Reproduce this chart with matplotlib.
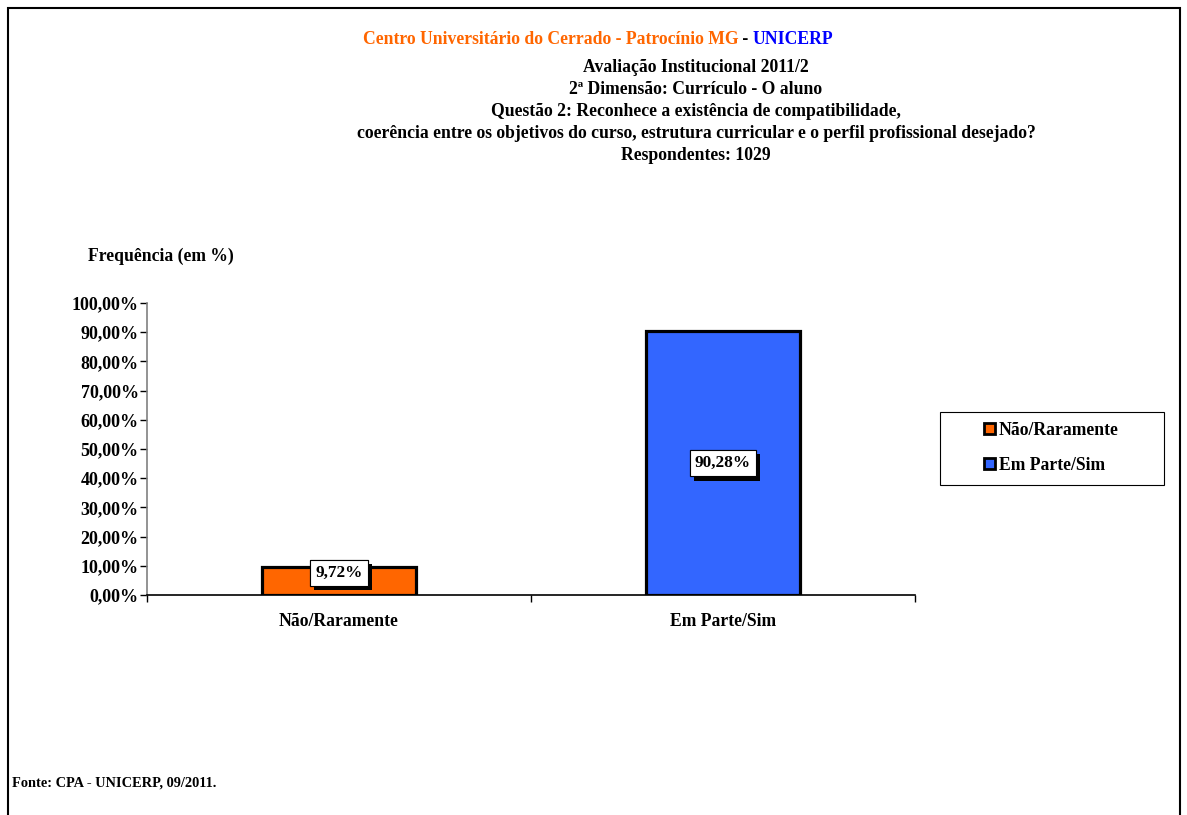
import matplotlib
matplotlib.use('Agg')
from matplotlib import pyplot as plt
from matplotlib import patheffects
from matplotlib.patches import Rectangle

plt.rcParams['font.family'] = ['Liberation Serif', 'DejaVu Serif']
plt.rcParams['font.weight'] = 'bold'

# dados
categorias = ['Não/Raramente', 'Em Parte/Sim']
valores = [9.72, 90.28]
cores = ['#FF6600', '#3366FF']
rotulos = ['9,72%', '90,28%']
yticks = [0, 10, 20, 30, 40, 50, 60, 70, 80, 90, 100]
ytick_labels = ['%d,00%%' % v for v in yticks]

titulo_partes = [('Centro Universitário do Cerrado - Patrocínio MG', '#FF6600'),
                 (' - ', 'black'),
                 ('UNICERP', '#0000FF')]
subtitulo = ['Avaliação Institucional 2011/2',
             '2ª Dimensão: Currículo - O aluno',
             'Questão 2: Reconhece a existência de compatibilidade,',
             'coerência entre os objetivos do curso, estrutura curricular e o perfil profissional desejado?',
             'Respondentes: 1029']

W, H = 1187, 815
fs = 12.7
fig = plt.figure(figsize=(W / 100, H / 100), dpi=100)

# moldura externa
fig.patches.append(Rectangle((8 / W, -0.01), (1180 - 8) / W, 1 - 8 / H + 0.01,
                             transform=fig.transFigure, fill=False,
                             edgecolor='black', linewidth=1.5))

ax = fig.add_axes([147 / W, 1 - 595 / H, (915 - 147) / W, (595 - 303) / H])

x = [0.5, 1.5]
ax.bar(x, valores, width=0.4, color=cores, edgecolor='black', linewidth=2.3, zorder=2)

ax.set_xlim(0, 2)
ax.set_ylim(0, 100)
ax.set_yticks(yticks)
ax.set_yticklabels(ytick_labels, fontsize=13, fontweight='bold')
ax.set_xticks([0, 1, 2])
ax.set_xticklabels([])
ax.tick_params(axis='both', direction='out', length=5, width=1, colors='black', pad=1)
for xi, c in zip(x, categorias):
    ax.text(xi, -9, c, ha='center', va='center', fontsize=fs, fontweight='bold')

for s in ['top', 'right']:
    ax.spines[s].set_visible(False)
ax.spines['left'].set_color('#808080')
ax.spines['left'].set_linewidth(1.2)
ax.spines['bottom'].set_linewidth(1.2)

# rótulos de dados com sombra
for xi, v, r in zip(x, valores, rotulos):
    t = ax.text(xi, max(v / 2, 7.5), r, ha='center', va='center', fontsize=12.4,
                fontweight='bold', zorder=4,
                bbox=dict(boxstyle='square,pad=0.3', facecolor='white',
                          edgecolor='black', linewidth=0.8))
    t.get_bbox_patch().set_path_effects([
        patheffects.withSimplePatchShadow(offset=(3, -3), shadow_rgbFace='black', alpha=1.0),
        patheffects.Normal()])

ax.text(-0.154, 116, 'Frequência (em %)', ha='left', va='center', fontsize=fs,
        fontweight='bold', clip_on=False)

# legenda (moldura desenhada à parte)
fig.patches.append(Rectangle((940 / W, 1 - 485 / H), (1164 - 940) / W, (485 - 412) / H,
                             transform=fig.transFigure, fill=False,
                             edgecolor='black', linewidth=0.8))
leg_handles = [Rectangle((0, 0), 1, 1, facecolor=c, edgecolor='black', linewidth=2)
               for c in cores]
leg = fig.legend(leg_handles, categorias, loc='upper left',
                 bbox_to_anchor=(984 / W, 1 - 422 / H), fontsize=fs,
                 frameon=False, handlelength=0.6, handleheight=0.6,
                 handletextpad=0.25, borderpad=0, labelspacing=1.0, borderaxespad=0)
for txt in leg.get_texts():
    txt.set_fontweight('bold')

# título em partes coloridas
renderer = fig.canvas.get_renderer()
tmp = [fig.text(0, 0, p, fontsize=fs, fontweight='bold') for p, _ in titulo_partes]
larguras = [t.get_window_extent(renderer).width for t in tmp]
for t in tmp:
    t.remove()
xpos = 598 - sum(larguras) / 2
for (p, c), w in zip(titulo_partes, larguras):
    fig.text(xpos / W, 1 - 40 / H, p, color=c, fontsize=fs, fontweight='bold',
             ha='left', va='center')
    xpos += w

for i, linha in enumerate(subtitulo):
    fig.text(696 / W, 1 - (68 + 21.8 * i) / H, linha, ha='center', va='center',
             fontsize=fs, fontweight='bold')

fig.text(12 / W, 1 - 783 / H, 'Fonte: CPA - UNICERP, 09/2011.', ha='left', va='center',
         fontsize=10.4, fontweight='bold')

fig.savefig('out.png', dpi=100)
